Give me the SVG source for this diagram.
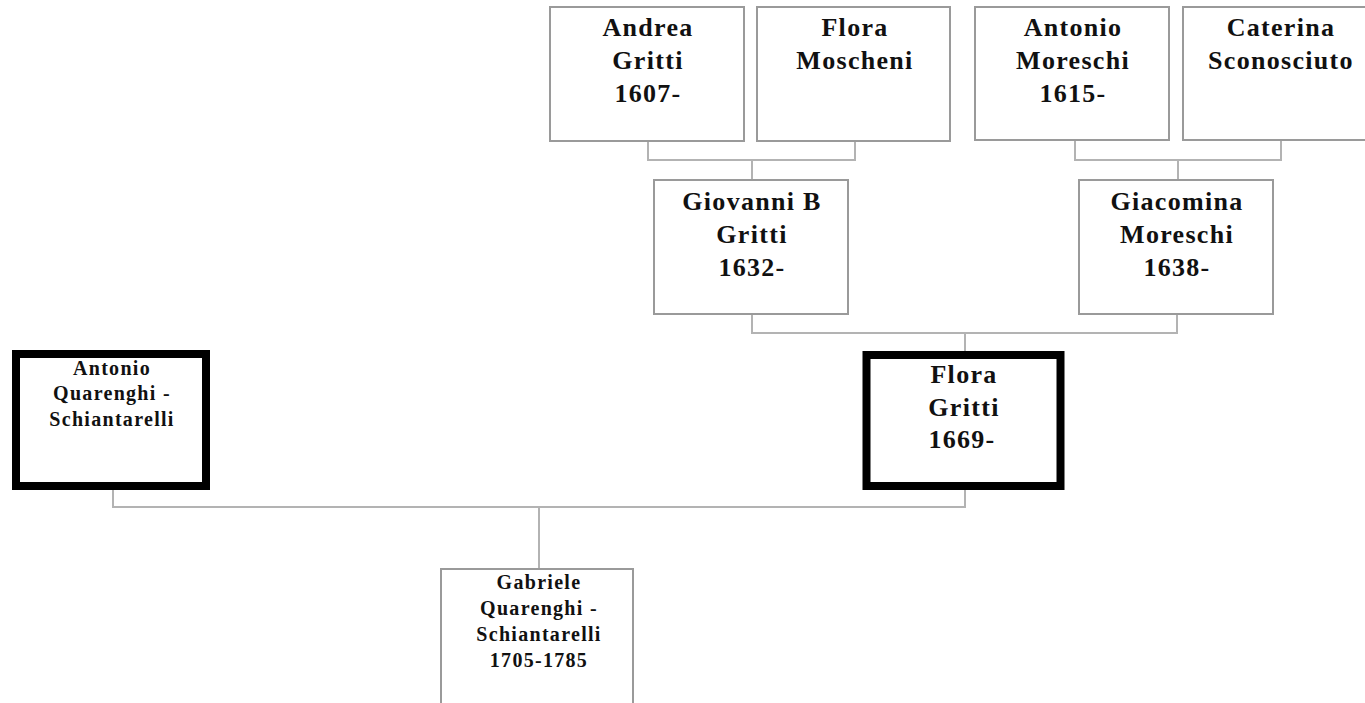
<svg xmlns="http://www.w3.org/2000/svg" width="1365" height="703" viewBox="0 0 1365 703">
<style>
.box{fill:#fff;stroke:#9a9a9a;stroke-width:2}
.bold{fill:#fff;stroke:#000;stroke-width:8}
.conn{fill:none;stroke:#b3b3b3;stroke-width:2}
.t{font-family:"Liberation Serif","Times New Roman",serif;font-weight:bold;font-size:26px;letter-spacing:1.3px;fill:#111;text-anchor:middle}
.s{font-family:"Liberation Serif","Times New Roman",serif;font-weight:bold;font-size:20px;letter-spacing:1.3px;fill:#111;text-anchor:middle}
</style>
<rect width="1365" height="703" fill="#fff"/>
<g id="connectors">
<path class="conn" d="M648 141 V160 H855 V141"/>
<path class="conn" d="M752 160 V180"/>
<path class="conn" d="M1075 140 V160 H1281 V140"/>
<path class="conn" d="M1178 160 V180"/>
<path class="conn" d="M752 314 V333 H1177 V314"/>
<path class="conn" d="M965 333 V351"/>
<path class="conn" d="M113 490 V507 H965 V490"/>
<path class="conn" d="M539 507 V569"/>
</g>
<g id="andrea">
<rect class="box" x="550" y="7" width="194" height="134"/>
<text class="t"><tspan x="648" y="36">Andrea</tspan><tspan x="648" y="69">Gritti</tspan><tspan x="648" y="102">1607-</tspan></text>
</g>
<g id="flora-moscheni">
<rect class="box" x="757" y="7" width="193" height="134"/>
<text class="t"><tspan x="855" y="36">Flora</tspan><tspan x="855" y="69">Moscheni</tspan></text>
</g>
<g id="antonio-moreschi">
<rect class="box" x="975" y="7" width="194" height="133"/>
<text class="t"><tspan x="1073" y="36">Antonio</tspan><tspan x="1073" y="69">Moreschi</tspan><tspan x="1073" y="102">1615-</tspan></text>
</g>
<g id="caterina">
<rect class="box" x="1183" y="7" width="194" height="133"/>
<text class="t"><tspan x="1281" y="36">Caterina</tspan><tspan x="1281" y="69">Sconosciuto</tspan></text>
</g>
<g id="giovanni">
<rect class="box" x="654" y="180" width="194" height="134"/>
<text class="t"><tspan x="752" y="210">Giovanni B</tspan><tspan x="752" y="243">Gritti</tspan><tspan x="752" y="276">1632-</tspan></text>
</g>
<g id="giacomina">
<rect class="box" x="1079" y="180" width="194" height="134"/>
<text class="t"><tspan x="1177" y="210">Giacomina</tspan><tspan x="1177" y="243">Moreschi</tspan><tspan x="1177" y="276">1638-</tspan></text>
</g>
<g id="flora-gritti">
<rect class="bold" x="866.5" y="355" width="194" height="131"/>
<text class="t"><tspan x="964" y="383">Flora</tspan><tspan x="964" y="416">Gritti</tspan><tspan x="962" y="448">1669-</tspan></text>
</g>
<g id="antonio-quarenghi">
<rect class="bold" x="16" y="354" width="190" height="132"/>
<text class="s"><tspan x="112" y="375">Antonio</tspan><tspan x="112" y="400">Quarenghi -</tspan><tspan x="112" y="426">Schiantarelli</tspan></text>
</g>
<g id="gabriele">
<rect class="box" x="441" y="569" width="192" height="145"/>
<text class="s"><tspan x="539" y="589">Gabriele</tspan><tspan x="539" y="615">Quarenghi -</tspan><tspan x="539" y="641">Schiantarelli</tspan><tspan x="539" y="667">1705-1785</tspan></text>
</g>
</svg>
